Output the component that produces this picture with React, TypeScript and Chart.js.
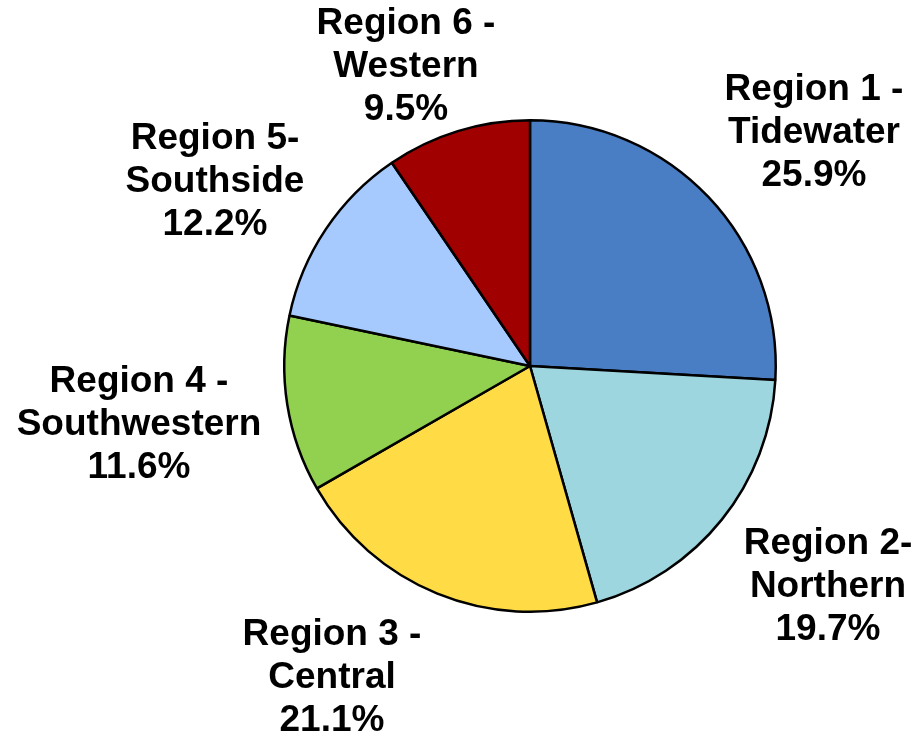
import React, { useEffect, useRef } from "react";
import { Chart, registerables } from "chart.js";

Chart.register(...registerables);

const regionNames = ["Region 1 -", "Region 2-", "Region 3 -", "Region 4 -", "Region 5-", "Region 6 -"];
const regionSubNames = ["Tidewater", "Northern", "Central", "Southwestern", "Southside", "Western"];
const shares = [25.9, 19.7, 21.1, 11.6, 12.2, 9.5];
const sliceColors = ["#4A7EC4", "#9ED6DF", "#FFDC45", "#92D050", "#A6CAFE", "#A00000"];

// label anchor (center x, first-line middle y) for each slice's text block
const labelAnchors = [
  [814, 90],
  [828, 544],
  [332, 635],
  [139, 382],
  [215, 139],
  [406, 24],
];

const labelPlugin = {
  id: "sliceLabels",
  afterDraw(chart: any) {
    const ctx = chart.ctx;
    ctx.save();
    ctx.font = "bold 37px 'Liberation Sans', Arial, sans-serif";
    ctx.fillStyle = "#000";
    ctx.textAlign = "center";
    ctx.textBaseline = "middle";
    const labels = chart.data.labels as string[][];
    labels.forEach((lines, i) => {
      const [x, y] = labelAnchors[i];
      lines.forEach((line, j) => {
        ctx.fillText(line, x, y + j * 43);
      });
    });
    ctx.restore();
  },
};

export default function App() {
  const ref = useRef<HTMLCanvasElement>(null);
  useEffect(() => {
    if (!ref.current) return;
    const chart = new Chart(ref.current, {
      type: "pie",
      data: {
        labels: regionNames.map((n, i) => [n, regionSubNames[i], shares[i].toFixed(1) + "%"]),
        datasets: [
          {
            data: shares,
            backgroundColor: sliceColors,
            borderColor: "#000",
            borderWidth: 2.5,
          },
        ],
      },
      options: {
        responsive: false,
        animation: false,
        layout: { padding: { left: 283, right: 138, top: 119, bottom: 124 } },
        plugins: {
          legend: { display: false },
          tooltip: { enabled: false },
          title: { display: false },
        },
      },
      plugins: [labelPlugin],
    });
    return () => chart.destroy();
  }, []);
  return (
    <div style={{ position: "fixed", left: 0, top: 0, width: 915, height: 737, background: "#fff" }}>
      <canvas ref={ref} width={915} height={737} />
    </div>
  );
}
